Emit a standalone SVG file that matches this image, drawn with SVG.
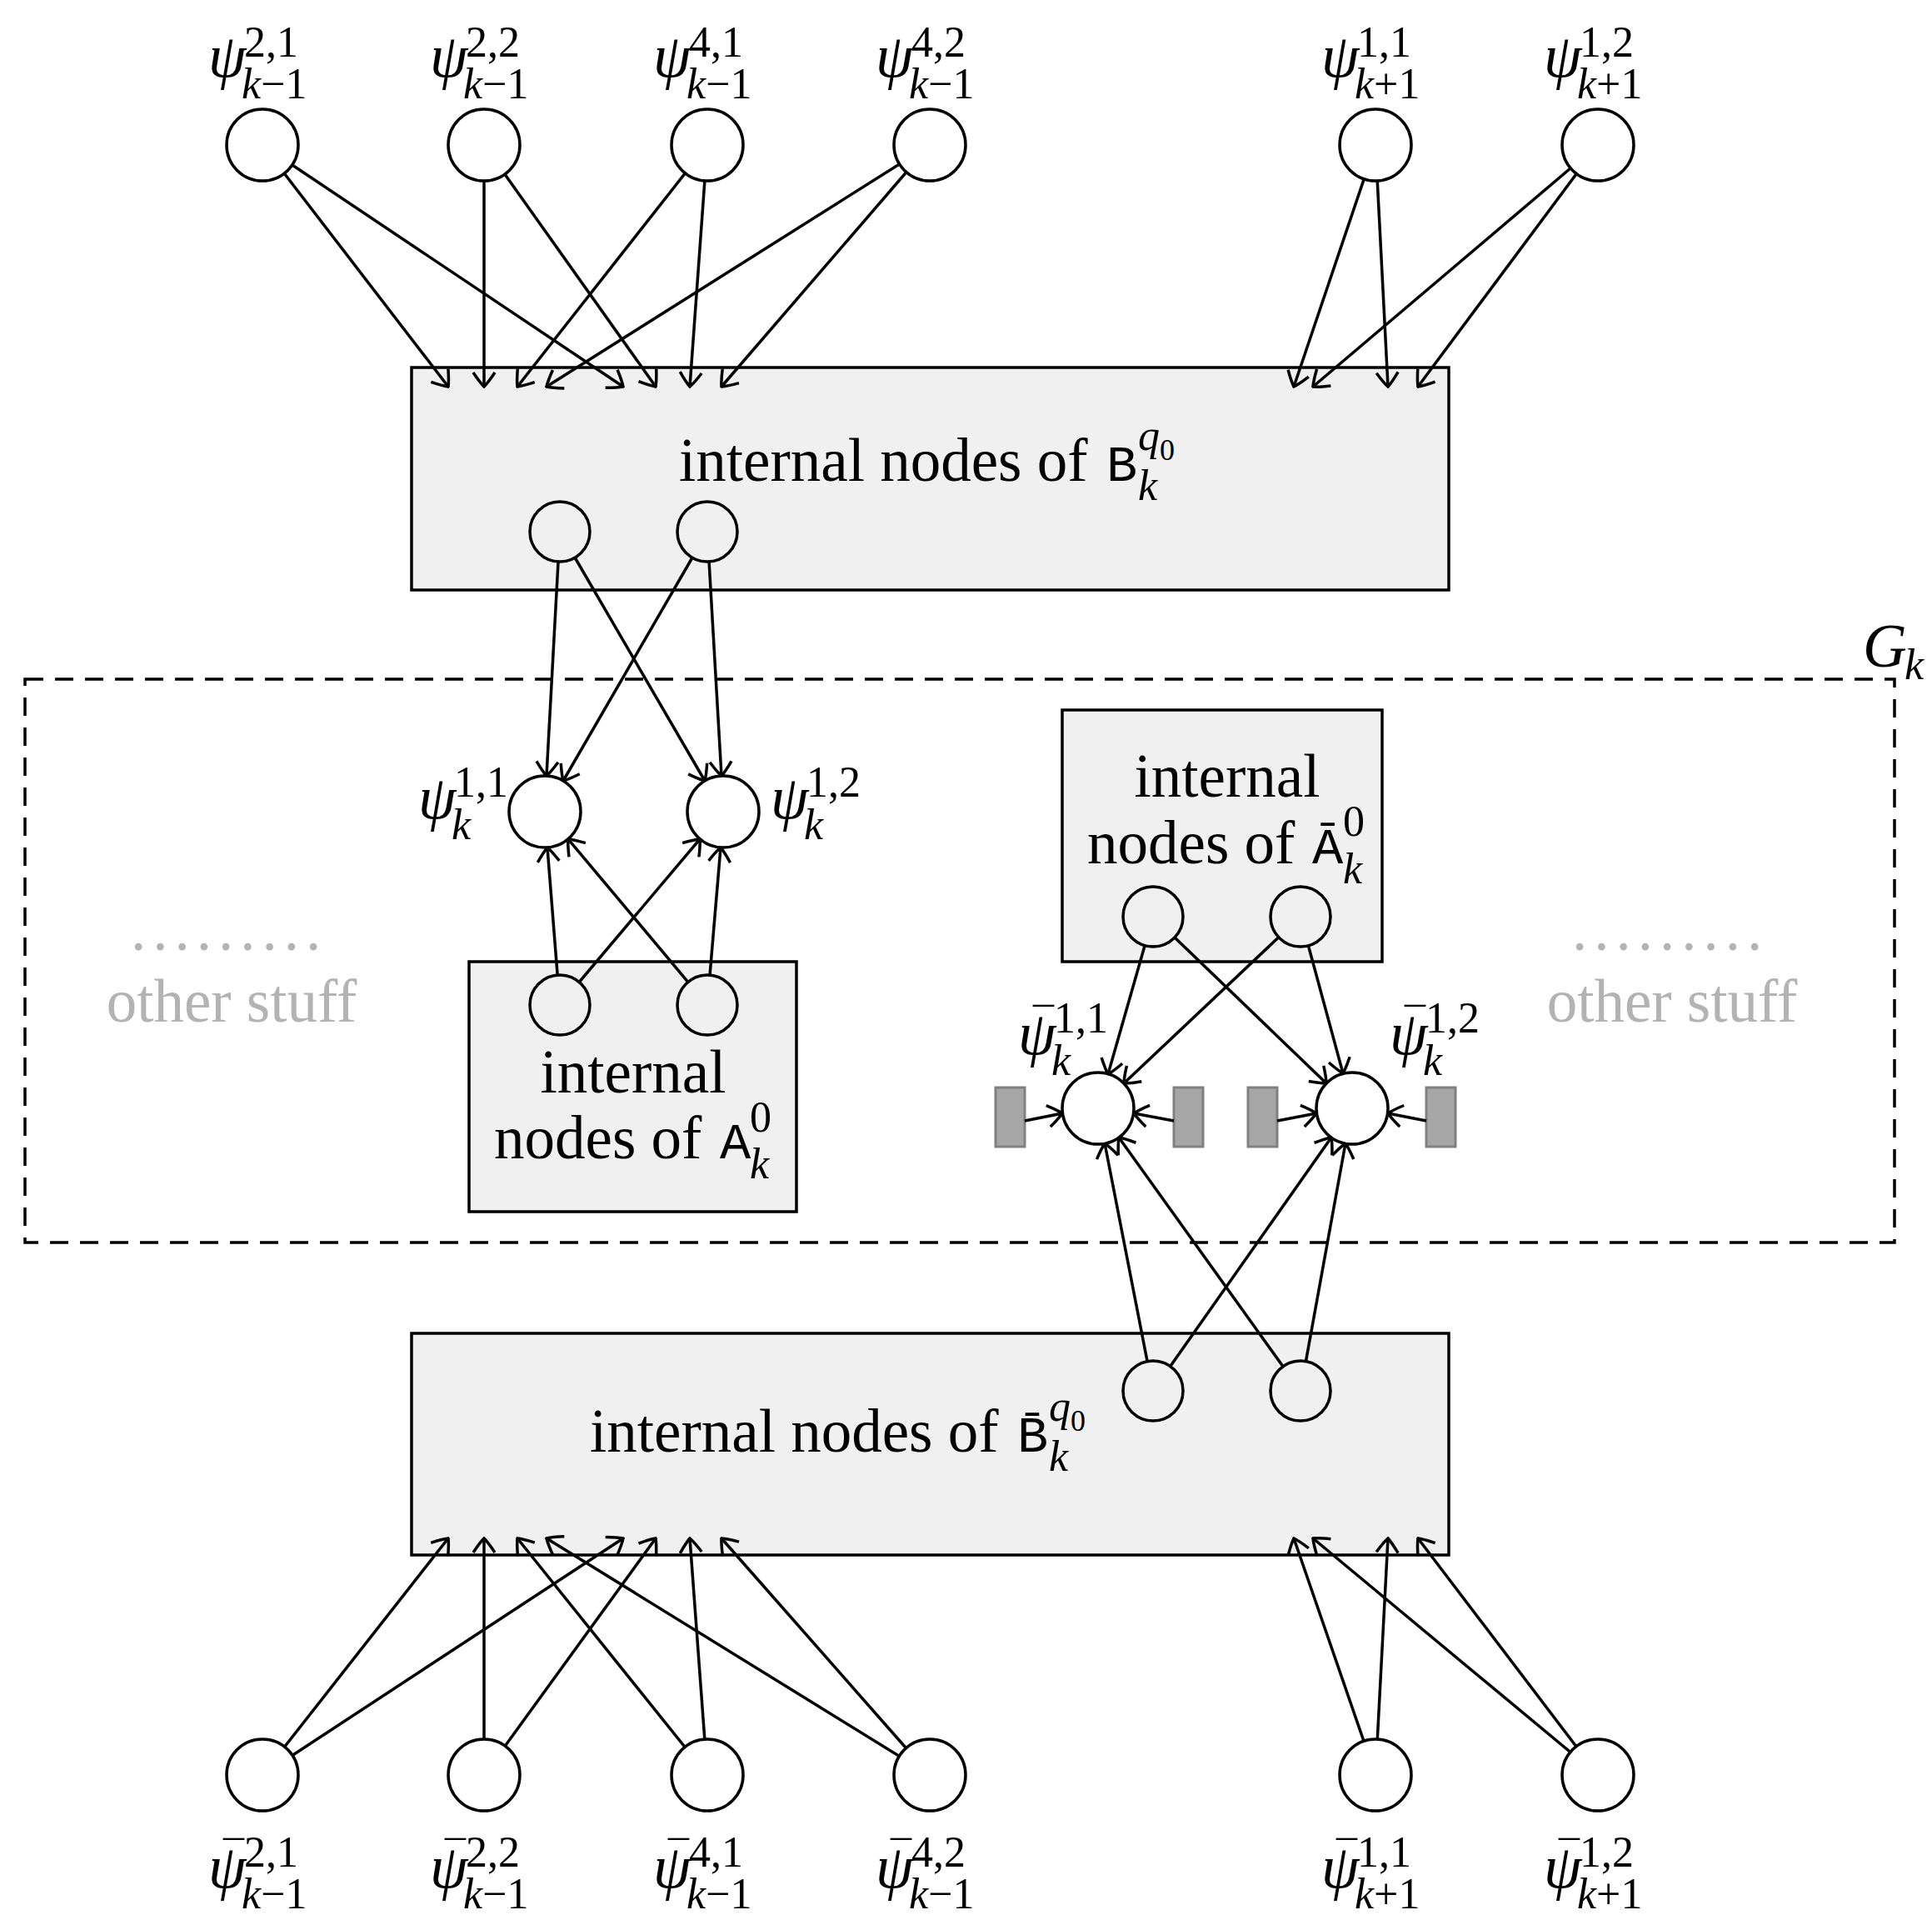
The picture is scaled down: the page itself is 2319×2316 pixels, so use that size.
<svg xmlns="http://www.w3.org/2000/svg" width="2319" height="2316" viewBox="0 0 2319 2316">
<style>
text{font-family:"Liberation Serif","DejaVu Serif",serif;fill:#000}
.it{font-style:italic}
.big{font-size:73px}
.sc{font-size:52px}
.mb{font-size:50px}
.mono{font-family:"Liberation Mono","DejaVu Sans Mono",monospace;font-size:62px}
.gray{fill:#b3b3b3}
.box{fill:#f0f0f0;stroke:#000;stroke-width:3.5}
.c{fill:#fff;stroke:#000;stroke-width:3.5}
.cg{fill:#f0f0f0;stroke:#000;stroke-width:3.5}
.e line{stroke:#000;stroke-width:3.5;marker-end:url(#a)}
.r{fill:#a6a6a6;stroke:#808080;stroke-width:3}
</style>
<defs>
<marker id="a" viewBox="-20 -16 22 32" refX="0" refY="0" markerWidth="22" markerHeight="32" markerUnits="userSpaceOnUse" orient="auto">
<path d="M-17,-13 Q-5,-5 0,0 Q-5,5 -17,13" fill="none" stroke="#000" stroke-width="3.5"/>
</marker>
</defs>
<rect width="2319" height="2316" fill="#fff"/>
<g id="Gk"><rect x="30" y="815" width="2244" height="676" fill="none" stroke="#000" stroke-width="3.5" stroke-dasharray="22,14"/>
<text x="2236" y="800" class="big it">G</text><text x="2286" y="815" class="sc it">k</text></g>
<g id="boxB"><rect class="box" x="494" y="441" width="1245" height="267"/>
<text x="815" y="577" class="big">internal nodes of</text><text x="1328" y="577" class="mono">B</text>
<text x="1366" y="540" class="sc it">q</text><text x="1392" y="552" style="font-size:36px">0</text><text x="1366" y="600" class="sc it">k</text></g>
<g id="boxBbar"><rect class="box" x="494" y="1600" width="1245" height="266"/>
<text x="708" y="1742" class="big">internal nodes of</text><text x="1221" y="1742" class="mono">B̄</text>
<text x="1259" y="1705" class="sc it">q</text><text x="1285" y="1717" style="font-size:36px">0</text><text x="1259" y="1765" class="sc it">k</text></g>
<g id="boxA"><rect class="box" x="563" y="1154" width="393" height="300"/>
<text x="760" y="1311" class="big" text-anchor="middle">internal</text>
<text x="593" y="1390" class="big">nodes of</text><text x="864" y="1390" class="mono">A</text>
<text x="900" y="1358" class="sc">0</text><text x="900" y="1414" class="sc it">k</text></g>
<g id="boxAbar"><rect class="box" x="1275" y="852" width="384" height="302"/>
<text x="1473" y="956" class="big" text-anchor="middle">internal</text>
<text x="1305" y="1036" class="big">nodes of</text><text x="1575" y="1036" class="mono">Ā</text>
<text x="1612" y="1003" class="sc">0</text><text x="1612" y="1060" class="sc it">k</text></g>
<g id="other">
<text x="275" y="1140" class="big gray" text-anchor="middle" letter-spacing="8">.........</text>
<text x="278" y="1226" class="big gray" text-anchor="middle">other stuff</text>
<text x="2005" y="1140" class="big gray" text-anchor="middle" letter-spacing="8">.........</text>
<text x="2007" y="1226" class="big gray" text-anchor="middle">other stuff</text></g>
<g id="rects"><rect class="r" x="1195" y="1305" width="35" height="71"/><rect class="r" x="1409" y="1305" width="35" height="71"/><rect class="r" x="1498" y="1305" width="35" height="71"/><rect class="r" x="1712" y="1305" width="35" height="71"/></g>
<g id="connectors" class="e">
<line x1="315" y1="174" x2="538" y2="464"/><line x1="315" y1="174" x2="748" y2="464"/>
<line x1="581" y1="174" x2="581" y2="464"/><line x1="581" y1="174" x2="787" y2="464"/>
<line x1="849" y1="174" x2="621" y2="464"/><line x1="849" y1="174" x2="828" y2="464"/>
<line x1="1116" y1="174" x2="656" y2="464"/><line x1="1116" y1="174" x2="866" y2="464"/>
<line x1="1651" y1="174" x2="1553" y2="464"/><line x1="1651" y1="174" x2="1666" y2="464"/>
<line x1="1918" y1="174" x2="1576" y2="464"/><line x1="1918" y1="174" x2="1702" y2="464"/>
<line x1="315" y1="2130" x2="538" y2="1846"/><line x1="315" y1="2130" x2="748" y2="1846"/>
<line x1="581" y1="2130" x2="581" y2="1846"/><line x1="581" y1="2130" x2="787" y2="1846"/>
<line x1="849" y1="2130" x2="621" y2="1846"/><line x1="849" y1="2130" x2="828" y2="1846"/>
<line x1="1116" y1="2130" x2="656" y2="1846"/><line x1="1116" y1="2130" x2="866" y2="1846"/>
<line x1="1651" y1="2130" x2="1553" y2="1846"/><line x1="1651" y1="2130" x2="1666" y2="1846"/>
<line x1="1918" y1="2130" x2="1576" y2="1846"/><line x1="1918" y1="2130" x2="1702" y2="1846"/>
<line x1="672" y1="638" x2="656" y2="931"/><line x1="672" y1="638" x2="846" y2="937"/>
<line x1="849" y1="638" x2="676" y2="937"/><line x1="849" y1="638" x2="866" y2="931"/>
<line x1="672" y1="1206" x2="657" y2="1017"/><line x1="672" y1="1206" x2="840" y2="1007"/>
<line x1="849" y1="1206" x2="682" y2="1007"/><line x1="849" y1="1206" x2="865" y2="1017"/>
<line x1="1384" y1="1100" x2="1330" y2="1289"/><line x1="1384" y1="1100" x2="1592" y2="1300"/>
<line x1="1561" y1="1100" x2="1349" y2="1300"/><line x1="1561" y1="1100" x2="1612" y2="1288"/>
<line x1="1384" y1="1669" x2="1326" y2="1372"/><line x1="1384" y1="1669" x2="1598" y2="1365"/>
<line x1="1561" y1="1669" x2="1343" y2="1365"/><line x1="1561" y1="1669" x2="1615" y2="1372"/>
<line x1="1230" y1="1345" x2="1275" y2="1336"/><line x1="1409" y1="1345" x2="1361" y2="1336"/>
<line x1="1533" y1="1345" x2="1580" y2="1336"/><line x1="1712" y1="1345" x2="1666" y2="1336"/>
</g>
<g id="nodes">
<circle class="c" cx="315" cy="174" r="43"/><circle class="c" cx="581" cy="174" r="43"/><circle class="c" cx="849" cy="174" r="43"/><circle class="c" cx="1116" cy="174" r="43"/><circle class="c" cx="1651" cy="174" r="43"/><circle class="c" cx="1918" cy="174" r="43"/>
<circle class="c" cx="315" cy="2130" r="43"/><circle class="c" cx="581" cy="2130" r="43"/><circle class="c" cx="849" cy="2130" r="43"/><circle class="c" cx="1116" cy="2130" r="43"/><circle class="c" cx="1651" cy="2130" r="43"/><circle class="c" cx="1918" cy="2130" r="43"/>
<circle class="cg" cx="672" cy="638" r="36"/><circle class="cg" cx="849" cy="638" r="36"/>
<circle class="cg" cx="672" cy="1206" r="36"/><circle class="cg" cx="849" cy="1206" r="36"/>
<circle class="cg" cx="1384" cy="1100" r="36"/><circle class="cg" cx="1561" cy="1100" r="36"/>
<circle class="cg" cx="1384" cy="1669" r="36"/><circle class="cg" cx="1561" cy="1669" r="36"/>
<circle class="c" cx="654" cy="974" r="43"/><circle class="c" cx="868" cy="974" r="43"/>
<circle class="c" cx="1318" cy="1330" r="43"/><circle class="c" cx="1623" cy="1330" r="43"/>
</g>
<g id="labels">
<text x="250" y="92" class="big it">ψ</text><text x="293" y="68" class="sc">2,1</text><text x="290" y="118" class="sc"><tspan class="it">k</tspan>−1</text>
<text x="516" y="92" class="big it">ψ</text><text x="559" y="68" class="sc">2,2</text><text x="556" y="118" class="sc"><tspan class="it">k</tspan>−1</text>
<text x="784" y="92" class="big it">ψ</text><text x="827" y="68" class="sc">4,1</text><text x="824" y="118" class="sc"><tspan class="it">k</tspan>−1</text>
<text x="1051" y="92" class="big it">ψ</text><text x="1094" y="68" class="sc">4,2</text><text x="1091" y="118" class="sc"><tspan class="it">k</tspan>−1</text>
<text x="1586" y="92" class="big it">ψ</text><text x="1629" y="68" class="sc">1,1</text><text x="1626" y="118" class="sc"><tspan class="it">k</tspan>+1</text>
<text x="1853" y="92" class="big it">ψ</text><text x="1896" y="68" class="sc">1,2</text><text x="1893" y="118" class="sc"><tspan class="it">k</tspan>+1</text>
<g id="barlabels">
<text x="250" y="2265" class="big it">ψ</text><text x="268" y="2244" class="mb">¯</text><text x="293" y="2240" class="sc">2,1</text><text x="290" y="2290" class="sc"><tspan class="it">k</tspan>−1</text>
<text x="516" y="2265" class="big it">ψ</text><text x="534" y="2244" class="mb">¯</text><text x="559" y="2240" class="sc">2,2</text><text x="556" y="2290" class="sc"><tspan class="it">k</tspan>−1</text>
<text x="784" y="2265" class="big it">ψ</text><text x="802" y="2244" class="mb">¯</text><text x="827" y="2240" class="sc">4,1</text><text x="824" y="2290" class="sc"><tspan class="it">k</tspan>−1</text>
<text x="1051" y="2265" class="big it">ψ</text><text x="1069" y="2244" class="mb">¯</text><text x="1094" y="2240" class="sc">4,2</text><text x="1091" y="2290" class="sc"><tspan class="it">k</tspan>−1</text>
<text x="1586" y="2265" class="big it">ψ</text><text x="1604" y="2244" class="mb">¯</text><text x="1629" y="2240" class="sc">1,1</text><text x="1626" y="2290" class="sc"><tspan class="it">k</tspan>+1</text>
<text x="1853" y="2265" class="big it">ψ</text><text x="1871" y="2244" class="mb">¯</text><text x="1896" y="2240" class="sc">1,2</text><text x="1893" y="2290" class="sc"><tspan class="it">k</tspan>+1</text>
</g>
<text x="502" y="982" class="big it">ψ</text><text x="545" y="956" class="sc">1,1</text><text x="542" y="1007" class="sc it">k</text>
<text x="925" y="982" class="big it">ψ</text><text x="968" y="956" class="sc">1,2</text><text x="965" y="1007" class="sc it">k</text>
<text x="1222" y="1265" class="big it">ψ</text><text x="1240" y="1244" class="mb">¯</text><text x="1265" y="1239" class="sc">1,1</text><text x="1262" y="1290" class="sc it">k</text>
<text x="1668" y="1265" class="big it">ψ</text><text x="1686" y="1244" class="mb">¯</text><text x="1711" y="1239" class="sc">1,2</text><text x="1708" y="1290" class="sc it">k</text>
</g>
</svg>
